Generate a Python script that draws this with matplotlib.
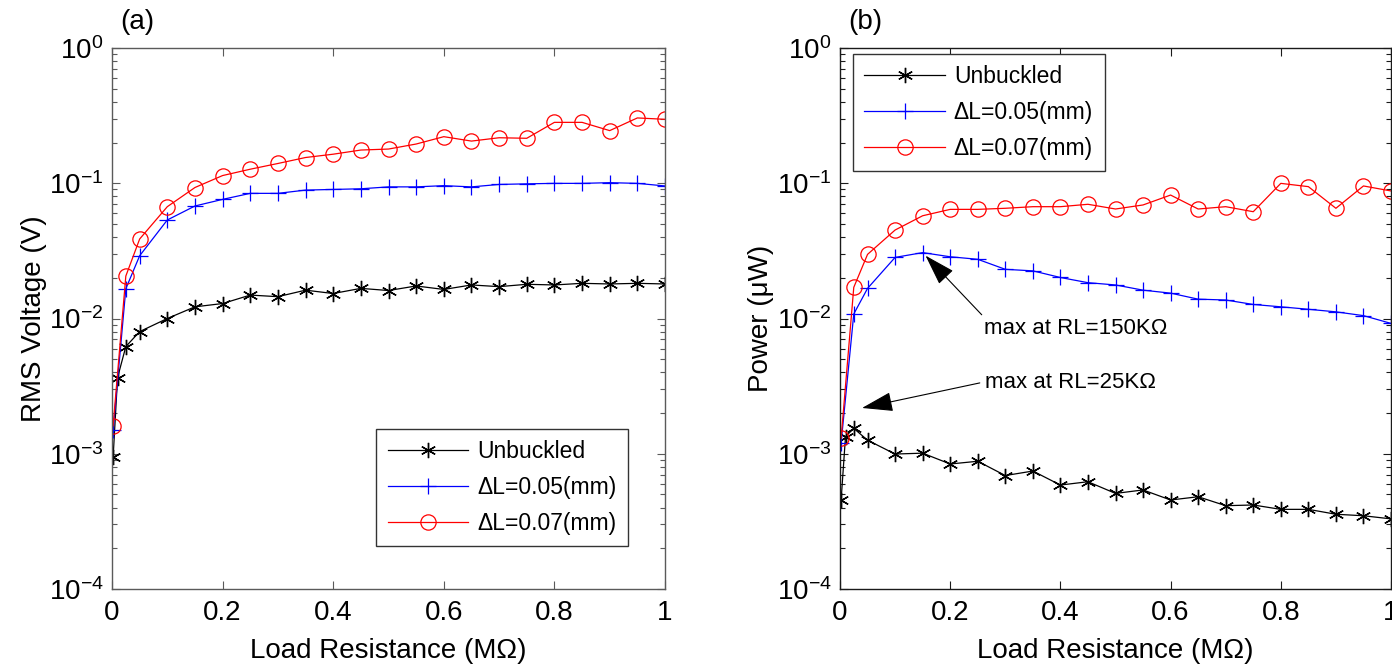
import numpy as np
import matplotlib
matplotlib.use("Agg")
import matplotlib.pyplot as plt
from matplotlib.ticker import LogLocator, FixedLocator, FixedFormatter, NullFormatter

plt.rcParams['font.family'] = ['Liberation Sans', 'DejaVu Sans']
plt.rcParams['mathtext.default'] = 'regular'
plt.rcParams['mathtext.fontset'] = 'custom'
plt.rcParams['mathtext.rm'] = 'Liberation Sans'

# Load resistance sweep (MOhm)
r_fine = [0.002, 0.01, 0.025, 0.05, 0.1, 0.15, 0.2, 0.25, 0.3, 0.35, 0.4, 0.45,
          0.5, 0.55, 0.6, 0.65, 0.7, 0.75, 0.8, 0.85, 0.9, 0.95, 1.0]
r_std = [0.002, 0.025, 0.05, 0.1, 0.15, 0.2, 0.25, 0.3, 0.35, 0.4, 0.45,
         0.5, 0.55, 0.6, 0.65, 0.7, 0.75, 0.8, 0.85, 0.9, 0.95, 1.0]

# RMS voltage (V)
v_unbuckled = [0.00094, 0.00365, 0.0062, 0.0080, 0.0100, 0.0122, 0.0129, 0.0149,
               0.0145, 0.0162, 0.0153, 0.0167, 0.0161, 0.0174, 0.0164, 0.0177,
               0.0172, 0.0179, 0.0177, 0.0182, 0.0180, 0.0182, 0.0180]
v_dl005 = [0.0015, 0.0166, 0.0291, 0.0535, 0.0679, 0.076, 0.0842, 0.0842, 0.089,
           0.090, 0.091, 0.094, 0.094, 0.096, 0.094, 0.098, 0.099, 0.0998,
           0.0998, 0.101, 0.0998, 0.0955]
v_dl007 = [0.00161, 0.0206, 0.0387, 0.0671, 0.093, 0.114, 0.127, 0.140, 0.155,
           0.164, 0.176, 0.179, 0.195, 0.221, 0.205, 0.217, 0.215, 0.282,
           0.282, 0.245, 0.304, 0.297]

# Power (uW)
p_unbuckled = [0.000455, 0.00134, 0.00154, 0.00126, 0.000995, 0.00101, 0.00084,
               0.00088, 0.00069, 0.000745, 0.000587, 0.000621, 0.000509,
               0.00054, 0.000455, 0.000481, 0.000413, 0.000418, 0.000388,
               0.000388, 0.000357, 0.000348, 0.00033]
p_dl005 = [0.0012, 0.0108, 0.0167, 0.0283, 0.0307, 0.0286, 0.0274, 0.0231, 0.0225,
           0.0201, 0.0184, 0.0177, 0.0162, 0.0154, 0.0139, 0.0137, 0.0127,
           0.0122, 0.0117, 0.0112, 0.0105, 0.0092]
p_dl007 = [0.0013, 0.0170, 0.0298, 0.0451, 0.0575, 0.0641, 0.0641, 0.0653, 0.0671,
           0.0671, 0.0699, 0.0645, 0.0691, 0.0818, 0.0645, 0.0671, 0.0616,
           0.0998, 0.0944, 0.0653, 0.0955, 0.0877]

labels = ['Unbuckled', '\u0394L=0.05(mm)', '\u0394L=0.07(mm)']
xticks = [0, 0.2, 0.4, 0.6, 0.8, 1.0]
xticklabels = ['0', '0.2', '0.4', '0.6', '0.8', '1']

W, H = 1392, 664
fig = plt.figure(figsize=(W / 100, H / 100), dpi=100)

def px_axes(x0, x1, y0, y1):
    return fig.add_axes([x0 / W, 1 - y1 / H, (x1 - x0) / W, (y1 - y0) / H])

ax1 = px_axes(112, 665, 48, 589)
ax2 = px_axes(840, 1391, 48, 589)

star = (6, 2, 0)
LW = 0.9

def draw(ax, yb, y5, y7, spine_color):
    ax.plot(r_fine, yb, color='black', lw=LW, marker=star, ms=11, mew=1.0,
            label=labels[0])
    ax.plot(r_std, y5, color='#0000ff', lw=LW, marker='+', ms=12, mew=0.9,
            label=labels[1])
    ax.plot(r_std, y7, color='#ff0000', lw=LW, marker='o', ms=11, mew=0.9,
            mfc='none', label=labels[2])
    ax.set_yscale('log')
    ax.set_ylim(1e-4, 1)
    ax.set_xlim(0, 1)
    ax.xaxis.set_major_locator(FixedLocator(xticks))
    ax.xaxis.set_major_formatter(FixedFormatter(xticklabels))
    ax.yaxis.set_major_locator(LogLocator(base=10, numticks=10))
    ax.yaxis.set_minor_locator(LogLocator(base=10, subs=np.arange(2, 10), numticks=20))
    ax.yaxis.set_minor_formatter(NullFormatter())
    ax.tick_params(which='both', direction='in', top=True, right=True,
                   labelsize=20, color=spine_color, width=0.8)
    ax.tick_params(which='major', length=6)
    ax.tick_params(which='minor', length=3.5)
    ax.tick_params(axis='x', pad=8)
    ax.tick_params(axis='y', pad=6)
    for s in ax.spines.values():
        s.set_color(spine_color)
        s.set_linewidth(1.0)
    ax.set_xlabel('Load Resistance (M\u03a9)', fontsize=20)
    ax.xaxis.set_label_coords(0.5, -0.09)

draw(ax1, v_unbuckled, v_dl005, v_dl007, '#5a5a5a')
draw(ax2, p_unbuckled, p_dl005, p_dl007, '#1a1a1a')

ax1.set_ylabel('RMS Voltage (V)', fontsize=20)
ax1.yaxis.set_label_coords(-0.118, 0.5)
ax2.set_ylabel('Power (\u03bcW)', fontsize=20)
ax2.yaxis.set_label_coords(-0.12, 0.5)

leg_kw = dict(fontsize=16.5, frameon=True, fancybox=False, framealpha=1,
              edgecolor='#333333', handlelength=3.5, handletextpad=0.4,
              labelspacing=0.55, borderpad=0.5, borderaxespad=0, numpoints=1)
l1 = ax1.legend(loc='lower right', bbox_to_anchor=(0.933, 0.0795), **leg_kw)
l2 = ax2.legend(loc='upper left', bbox_to_anchor=(0.0236, 0.989), **leg_kw)
for lg in (l1, l2):
    lg.get_frame().set_linewidth(1.0)

fig.text(120 / W, 1 - 22 / H, '(a)', fontsize=20, va='center', ha='left')
fig.text(848 / W, 1 - 22 / H, '(b)', fontsize=20, va='center', ha='left')

# Annotations on the power curves
i_peak = int(np.argmax(p_dl005))
arrow = dict(arrowstyle='-|>,head_length=0.7,head_width=0.22', mutation_scale=28,
             color='black', lw=0.8, shrinkA=0)
ax2.annotate('max at RL=150K\u03a9', xy=(r_std[i_peak], p_dl005[i_peak]),
             xytext=(0.262, 0.0085), textcoords='data', fontsize=16, va='center',
             ha='left', arrowprops=dict(arrow, relpos=(0.0, 1.0), shrinkB=3))
ax2.annotate('max at RL=25K\u03a9', xy=(0.040, 0.00218),
             xytext=(0.263, 0.00334), textcoords='data', fontsize=16, va='center',
             ha='left', arrowprops=dict(arrow, relpos=(-0.03, 0.5), shrinkB=0))

fig.savefig('out.png', dpi=100)
